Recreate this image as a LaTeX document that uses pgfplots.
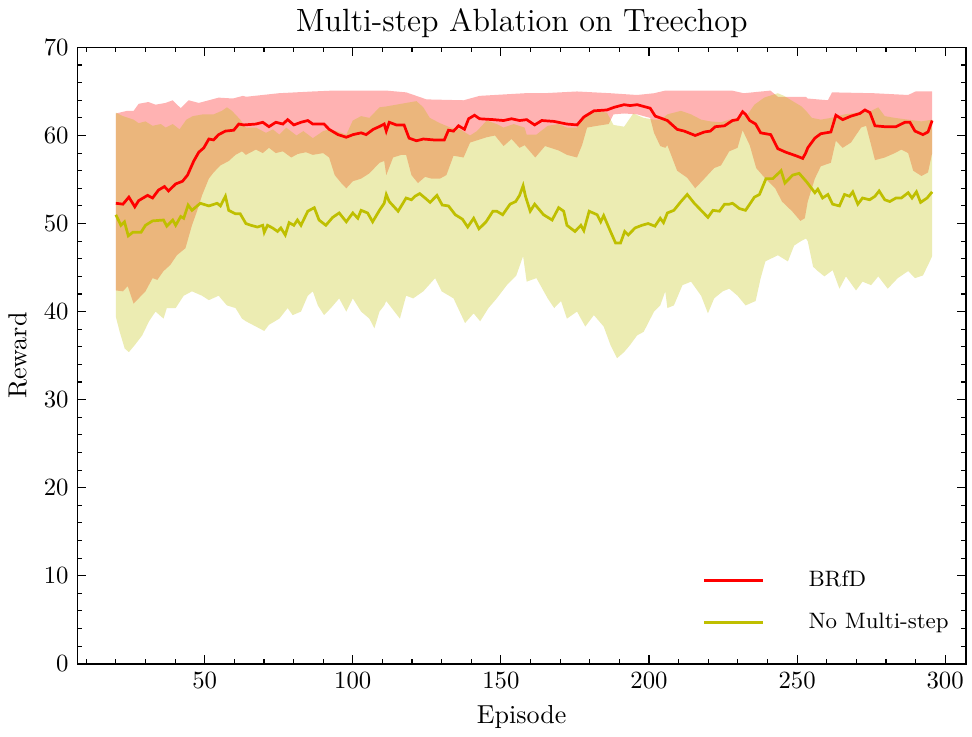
\documentclass[border=0pt]{standalone}
\usepackage{pgfplots}
\pgfplotsset{compat=1.18}
\usepgfplotslibrary{fillbetween}
\definecolor{ycol}{RGB}{191,191,0}
\begin{document}
\begin{tikzpicture}
\begin{axis}[
  scale only axis, width=359pt, height=249pt,
  xmin=7, xmax=307, ymin=0, ymax=70,
  xtick={50,100,...,300}, ytick={0,10,...,70},
  minor xtick={10,20,...,300}, minor ytick={2,4,...,70},
  tick align=inside, major tick length=3.6pt, minor tick length=1.8pt,
  tick style={black, line width=0.45pt},
  axis line style={line width=0.6pt},
  title={\fontsize{13}{15}\selectfont Multi-step Ablation on Treechop},
  title style={yshift=-5.5pt},
  xlabel={\fontsize{10.5}{12}\selectfont Episode}, ylabel={\fontsize{10.5}{12}\selectfont Reward},
  legend style={at={(0.995,0.035)}, anchor=south east, draw=none, fill=none, row sep=5pt, font=\small,
    /tikz/every odd column/.append style={column sep=16pt}},
  legend cell align=left,
  legend image code/.code={\draw[#1, line width=1.1pt] (0pt,0pt) -- (23.5pt,0pt);},
]
% BRfD bounds
\addplot[draw=none, name path=ru, forget plot] coordinates {
(20,62.5)(23.8,62.8)(26,62.8)(27.7,63.6)(31,63.8)(33.4,63.5)(36.8,63.7)(39.2,64.0)(41.9,63.1)(44.6,64.0)(48,63.7)(51.4,64.0)(54.7,64.3)(59.5,64.2)(62.9,64.5)(64,64.4)(75,64.8)(86.5,65.0)(93.3,65.1)(110,65.1)(111.3,65.1)(118,64.9)(124.9,64.1)(137.4,64.0)(142.8,64.5)(158,64.8)(164.4,64.8)(175.7,65.0)(187,64.8)(196,64.6)(201.7,64.8)(205.5,65.1)(228,65.1)(232,64.8)(241,65.1)(243.5,64.4)(253,64.4)(253.6,64.2)(260.4,64.0)(261.8,64.9)(276,64.8)(287.5,64.6)(290,65.0)(295.6,65.0)
};
\addplot[draw=none, name path=rl, forget plot] coordinates {
(20,42.4)(22.4,42.3)(24,42.9)(26,40.9)(27.7,41.5)(30,42.3)(32.4,43.8)(34,43.6)(36.1,44.6)(38.4,45.3)(40.6,46.4)(43.5,47.2)(45.7,49.8)(47.4,51.4)(49.1,53.2)(51.4,55.1)(53,55.8)(55.3,56.6)(58.1,57.1)(60.4,57.8)(62.6,58.2)(63.9,57.8)(67.3,58.4)(69.6,58.0)(71.7,58.6)(74,58.0)(76.4,58.2)(79.2,57.5)(81.4,57.9)(84.2,58.1)(86.5,57.8)(90,58.0)(92,57.5)(93.9,55.5)(96.1,54.6)(97.8,54.0)(100,54.8)(102.8,55.1)(105.6,55.7)(109,56.9)(110.6,57.1)(111.3,55.5)(113.6,57.5)(116.4,57.8)(118,57.8)(119.8,55.5)(122,54.6)(124.4,55.3)(126.6,55.1)(129.4,55.1)(131.6,55.5)(134,57.7)(137.4,57.5)(139.6,59.2)(142.4,59.5)(145.2,59.8)(148,60.0)(150.9,58.8)(153.6,59.6)(156.3,58.6)(158,58.9)(161.6,57.5)(164.9,58.8)(169.5,58.3)(172.3,57.8)(175.7,57.5)(177.4,58.9)(179.1,60.9)(182.5,61.1)(186.4,61.3)(188,62.4)(191.6,62.5)(196,62.4)(200.4,62.0)(201.7,60.3)(203.8,58.8)(205.5,58.6)(206.2,58.9)(209.5,56.0)(212.9,55.2)(215.6,54.0)(218.7,55.1)(222,56.3)(224.3,56.6)(227.1,58.2)(229.9,58.6)(231.6,60.6)(234,58.9)(236.2,56.3)(239.3,55.1)(242.6,54.0)(244.9,52.5)(248.3,51.4)(251.1,50.3)(252.6,50.6)(253.6,52.5)(256,55.1)(258,56.5)(261.4,56.9)(263.1,59.4)(265.4,58.6)(268.2,59.2)(271.6,60.9)(273.3,61.1)(275,58.9)(276.3,57.2)(279.6,57.5)(283,58.0)(285.2,58.4)(287.5,58.0)(289.2,56.0)(292,55.4)(294.2,55.8)(295.6,58.0)
};
\addplot[fill=red, fill opacity=0.3, draw=none, forget plot] fill between[of=ru and rl];
% No Multi-step bounds
\addplot[draw=none, name path=yu, forget plot] coordinates {
(20,62.6)(22.4,62.2)(26,61.8)(27.7,61.4)(30,61.6)(32.4,61.1)(35.2,61.3)(36.8,60.9)(39.2,61.3)(41.5,60.7)(43.8,61.8)(46,62.2)(49.4,62.4)(53,62.4)(55.8,62.8)(57.5,63.2)(59.2,62.8)(62,61.8)(63.9,60.9)(67.3,60.9)(70.7,60.3)(73,60.7)(75.2,60.1)(77.5,60.9)(81,60.0)(83.3,60.5)(86.5,59.7)(90,60.5)(92,60.7)(94.5,60.5)(97.8,60.1)(100,61.7)(102.8,62.2)(105.6,62.0)(109,63.2)(111.3,63.3)(114.7,63.5)(118,63.7)(121.5,63.9)(123.8,63.2)(126,62.0)(129.4,61.4)(133,60.9)(136.2,60.7)(139.6,60.0)(141.9,60.5)(145.2,61.7)(148.6,61.3)(150.9,60.9)(154.3,61.3)(158,60.9)(158.7,60.1)(162,60.1)(165.8,61.1)(169.5,61.3)(172.3,60.9)(175.7,60.9)(178.5,62.4)(181.4,62.8)(185.8,62.6)(188,61.2)(191.6,61.0)(194.7,62.5)(198.2,62.0)(201.7,61.8)(203.8,61.8)(205.5,62.2)(206.2,62.4)(210.8,62.8)(214.2,62.4)(217.6,61.8)(220.7,61.6)(224.3,61.5)(227.1,61.8)(229.9,62.0)(233.3,62.4)(235.6,63.5)(238.9,64.3)(243.5,64.8)(245.6,64.5)(249,63.8)(251.5,63.3)(253,62.8)(255,62.0)(258,61.8)(261.4,62.0)(266,62.4)(270.5,62.6)(275,62.8)(277.4,63.2)(279.6,62.2)(283,62.0)(287.5,61.8)(292,61.6)(295.6,61.8)
};
\addplot[draw=none, name path=yl, forget plot] coordinates {
(20,39.4)(21.3,37.7)(23,35.8)(24.4,35.4)(26.4,36.2)(28.9,37.3)(31.2,38.9)(33.4,40.0)(36.1,39.2)(37.2,40.4)(40.2,40.4)(42.9,41.8)(45.7,42.3)(49.1,41.8)(51.4,41.3)(54.7,41.8)(57.5,40.7)(60.4,40.4)(62.6,39.2)(63.9,38.9)(67.3,38.3)(70.1,37.8)(71.7,38.5)(75.2,39.2)(78,40.4)(79.7,39.6)(82.5,40.0)(84.8,41.8)(86.5,42.3)(88.2,40.7)(90.3,39.6)(92.6,40.4)(95.4,41.5)(97.8,40.0)(100,41.5)(102.8,40.0)(105.6,39.2)(107.3,38.1)(109,40.0)(110.6,40.7)(111.3,41.2)(115.9,39.2)(118,41.8)(120.4,41.5)(123.8,42.3)(127.8,43.8)(130,42.3)(134,41.5)(137.9,38.7)(140.8,39.8)(143,38.9)(145.8,40.4)(148.6,41.5)(152,43.0)(155.2,44.1)(157.5,46.3)(158.7,43.4)(162,43.8)(165.8,41.5)(168,40.4)(170.3,41.2)(172.3,39.2)(175.7,40.0)(178.5,38.3)(181.4,39.6)(184.7,38.3)(187,36.2)(189.2,34.7)(191.6,35.4)(193.6,36.2)(196,37.3)(198.2,37.7)(201.7,40.0)(203.8,40.7)(205.5,42.3)(206.2,40.4)(208.4,40.7)(211.3,43.0)(214.2,43.4)(217.6,41.8)(219.9,39.8)(222,41.5)(224.9,42.3)(227.1,42.6)(229.9,41.8)(232.6,40.7)(236,41.2)(237.7,43.8)(239.3,45.7)(243.5,46.4)(246.9,45.7)(249,47.5)(251.3,48.0)(253,48.3)(253.6,48.0)(255.4,45.1)(257,44.6)(259.2,44.0)(262,44.7)(264.3,42.6)(266.5,44.0)(269.9,42.4)(272.1,43.4)(275,43.0)(277.4,44.0)(280.6,42.6)(284,43.8)(287.5,44.6)(289.8,43.8)(292.5,44.1)(294.8,45.7)(295.6,46.3)
};
\addplot[fill=ycol, fill opacity=0.3, draw=none, forget plot] fill between[of=yu and yl];
% means
\addplot[red, line width=1.1pt] coordinates {
(20,52.3)(22.4,52.2)(24.4,53.0)(26.4,51.9)(27.7,52.6)(30.7,53.2)(32.4,52.9)(34.4,53.8)(36.4,54.2)(37.8,53.7)(40.2,54.5)(42.5,54.8)(44.2,55.5)(46.3,57.1)(48,58.1)(49.7,58.6)(51.4,59.6)(53,59.5)(54.7,60.1)(57,60.5)(59.8,60.6)(61.5,61.3)(63.2,61.2)(67.3,61.3)(69.6,61.5)(71.7,61.0)(74,61.5)(76.4,61.3)(78,61.8)(80.1,61.2)(82.5,61.5)(84.8,61.7)(86.5,61.3)(88.6,61.3)(90.3,61.3)(92,60.7)(95,60.1)(97.8,59.8)(100.1,60.1)(102.8,60.3)(104.5,60.1)(106.9,60.7)(108.9,61.0)(110.6,61.3)(111.3,60.5)(112.3,61.5)(114.7,61.2)(117.3,61.2)(119,59.7)(121.5,59.4)(123.8,59.6)(127.2,59.5)(130.9,59.5)(132.3,60.6)(134,60.5)(135.7,61.1)(137.7,60.7)(139.1,61.9)(141.1,62.3)(142.8,61.9)(147.5,61.8)(150.9,61.7)(153.6,61.9)(156.3,61.7)(158.7,61.8)(161.4,61.2)(163.8,61.7)(167.9,61.6)(172.3,61.3)(175.7,61.2)(178,62.1)(181.4,62.8)(185.8,62.9)(188.2,63.2)(191.6,63.5)(193.6,63.4)(196,63.5)(200.4,63.1)(202.1,62.2)(203.8,62.0)(206.2,61.7)(209.5,60.7)(211.9,60.5)(215.6,60.0)(218.7,60.4)(220.7,60.5)(222.4,61.0)(225.5,61.1)(228.2,61.7)(229.9,61.8)(231.6,62.7)(232.6,62.4)(234,61.7)(236,61.3)(237.7,60.3)(241.1,60.1)(243.5,58.5)(246.2,58.1)(249.6,57.7)(251.9,57.4)(252.9,58.0)(253.6,58.6)(256,59.7)(258,60.2)(261.4,60.4)(263.1,62.3)(265.4,61.8)(268.2,62.2)(271.2,62.5)(272.9,62.9)(274.6,62.6)(276.3,61.1)(279.6,61.0)(283.4,61.0)(286.4,61.5)(288.1,61.5)(289.8,60.5)(292.5,60.1)(294.2,60.4)(295.6,61.7)
};
\addlegendentry{BRfD}
\addplot[ycol, line width=1.1pt] coordinates {
(20,51.0)(21.7,49.8)(22.9,50.2)(24.2,48.6)(25.7,49.0)(28.5,49.0)(30,49.8)(32.4,50.3)(36.1,50.4)(37.2,49.7)(39.2,50.4)(40.2,49.8)(41.9,50.8)(42.9,50.6)(44.4,52.1)(45.7,51.5)(48.5,52.3)(51.4,52.0)(54.2,52.3)(55.3,52.0)(57,53.1)(58.1,51.5)(60.4,51.1)(62,51.1)(63.9,50.0)(65.6,49.8)(67.8,49.6)(69.6,49.8)(70.1,49.0)(71.2,49.8)(72.9,49.5)(74.6,49.1)(75.7,49.5)(77.2,48.7)(78.5,50.1)(80.1,49.8)(81.3,50.4)(82.5,49.8)(84.8,51.4)(87,51.8)(88.6,50.4)(90.9,49.8)(93.2,50.7)(95.4,51.2)(97.8,50.2)(100,51.2)(101.7,50.6)(102.8,51.5)(105,51.2)(106.7,50.2)(109,51.5)(110.6,52.3)(111.3,53.3)(112.3,52.5)(115.3,51.4)(118,52.9)(119.8,52.7)(121,53.1)(122.6,53.4)(124.4,52.9)(126.1,52.4)(128.4,53.2)(130.2,52.1)(132.3,52.0)(134.6,51.0)(137,50.5)(138.8,49.6)(140.8,50.6)(142.6,49.4)(145,50.2)(147.3,51.4)(148.6,51.4)(150.6,51.0)(153.1,52.2)(155,52.5)(156.3,53.2)(157.5,54.3)(158.3,53.1)(159.9,51.4)(161.4,52.2)(164.4,51.0)(167.3,50.4)(169.5,51.8)(171.2,51.4)(172.3,49.8)(175,49.1)(177,49.8)(178,49.2)(179.8,51.4)(182.5,51.0)(183.7,50.2)(184.7,50.9)(187,49.1)(188.7,47.8)(190.4,47.8)(191.8,49.1)(193,48.7)(195.3,49.5)(197.6,49.8)(199.7,50.0)(202,49.7)(203.8,50.6)(204.9,50.1)(206.2,51.2)(208.4,51.5)(210.8,52.5)(212.9,53.3)(215.3,52.3)(217.6,51.5)(219.9,50.7)(221.6,51.5)(223.8,51.4)(225.5,52.2)(227.1,52.2)(228.2,52.3)(229.4,52.0)(230.5,51.7)(232.6,51.5)(235.6,53.0)(237.3,53.3)(239.5,55.1)(241.8,55.1)(244.6,56.0)(245.9,54.6)(248.5,55.5)(250.7,55.7)(253.3,54.7)(256,53.5)(257,53.9)(258.6,52.9)(260.4,53.3)(262,52.2)(264.3,52.0)(266,53.3)(267.7,53.1)(268.8,53.6)(270.5,52.2)(272.1,52.9)(274.5,52.7)(276.3,53.1)(277.7,53.7)(279.6,52.7)(281.3,52.5)(283.4,52.9)(285.2,52.9)(287.5,53.5)(288.8,52.9)(290.3,53.6)(291.7,52.4)(293.9,52.9)(295.6,53.6)
};
\addlegendentry{No Multi-step}
\end{axis}
\end{tikzpicture}
\end{document}
